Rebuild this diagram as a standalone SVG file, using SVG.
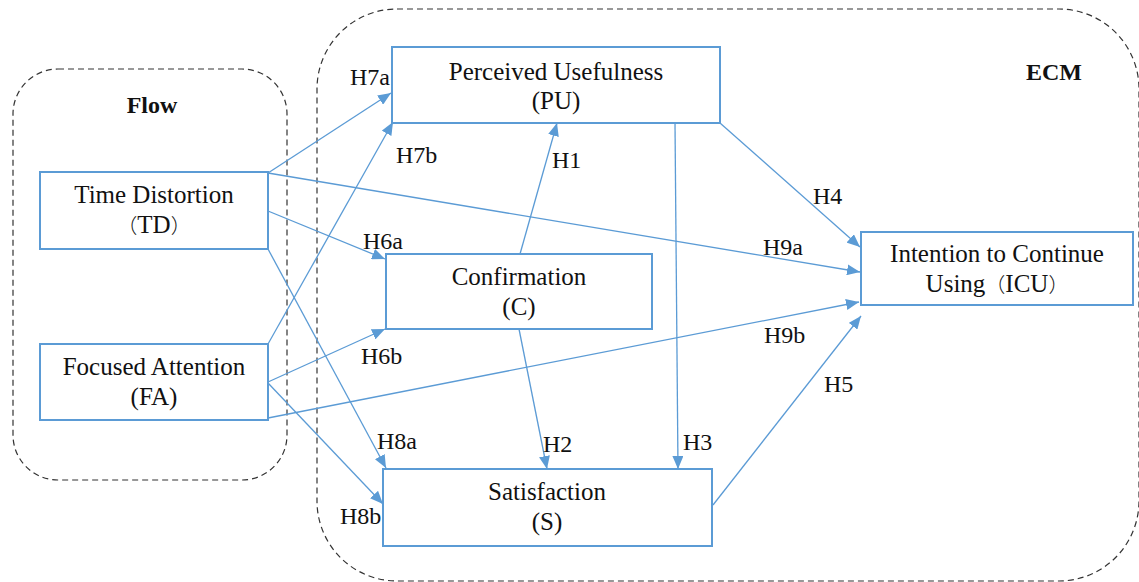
<svg xmlns="http://www.w3.org/2000/svg" width="1139" height="582" viewBox="0 0 1139 582">
<style>
.cont{fill:none;stroke:#333;stroke-width:1.2;stroke-dasharray:6 4}
.node{fill:#fff;stroke:#5B9BD5;stroke-width:2}
.t{font-family:'Liberation Serif','DejaVu Serif',serif;font-size:25px;fill:#111;text-anchor:middle}
.lbl{font-family:'Liberation Serif','DejaVu Serif',serif;font-size:24px;fill:#111}
.ttl{font-family:'Liberation Serif',serif;font-size:24px;font-weight:bold;fill:#111;text-anchor:middle}
.cjk{font-family:'Noto Sans CJK SC',sans-serif;font-size:20px;font-weight:300}
.c{stroke:#5B9BD5;stroke-width:1.3;fill:none;marker-end:url(#ah)}
</style>
<defs>
<marker id="ah" markerUnits="userSpaceOnUse" markerWidth="13" markerHeight="11" refX="13" refY="5.5" orient="auto">
<path d="M0,0 L13,5.5 L0,11 z" fill="#5B9BD5"/>
</marker>
</defs>
<rect width="1139" height="582" fill="#fff"/>
<g id="containers">
<rect class="cont" x="13" y="69" width="274" height="411" rx="45"/>
<rect class="cont" x="317" y="9" width="822" height="572" rx="80"/>
<text class="ttl" x="152" y="113">Flow</text>
<text class="ttl" x="1054" y="80">ECM</text>
</g>
<g id="connectors">
<line class="c" x1="268" y1="173" x2="391" y2="93"/>
<line class="c" x1="268" y1="344" x2="393" y2="122"/>
<line class="c" x1="268" y1="211" x2="385" y2="259"/>
<line class="c" x1="268" y1="382" x2="385" y2="329"/>
<line class="c" x1="268" y1="249" x2="386" y2="468"/>
<line class="c" x1="268" y1="383" x2="383" y2="504"/>
<line class="c" x1="268" y1="418" x2="859" y2="302"/>
<line class="c" x1="268" y1="173" x2="860" y2="272"/>
<line class="c" x1="720" y1="123" x2="860" y2="247"/>
<line class="c" x1="713" y1="505" x2="861" y2="316"/>
<line class="c" x1="675" y1="123" x2="678" y2="469"/>
<line class="c" x1="519" y1="329" x2="547" y2="469"/>
<line class="c" x1="520" y1="254" x2="557" y2="123"/>
<text class="lbl" x="350" y="85">H7a</text>
<text class="lbl" x="396" y="163">H7b</text>
<text class="lbl" x="552" y="168">H1</text>
<text class="lbl" x="363" y="249">H6a</text>
<text class="lbl" x="361" y="364">H6b</text>
<text class="lbl" x="377" y="449">H8a</text>
<text class="lbl" x="543" y="452">H2</text>
<text class="lbl" x="683" y="450">H3</text>
<text class="lbl" x="340" y="524">H8b</text>
<text class="lbl" x="813" y="204">H4</text>
<text class="lbl" x="763" y="255">H9a</text>
<text class="lbl" x="764" y="343">H9b</text>
<text class="lbl" x="824" y="392">H5</text>
</g>
<g id="TD">
<rect class="node" x="40" y="172" width="228" height="77"/>
<text class="t" x="154" y="203">Time Distortion</text>
<text class="t" x="154" y="233"><tspan class="cjk">（</tspan>TD<tspan class="cjk">）</tspan></text>
</g>
<g id="FA">
<rect class="node" x="40" y="344" width="228" height="76"/>
<text class="t" x="154" y="375">Focused Attention</text>
<text class="t" x="154" y="405">(FA)</text>
</g>
<g id="PU">
<rect class="node" x="392" y="47" width="328" height="76"/>
<text class="t" x="556" y="80">Perceived Usefulness</text>
<text class="t" x="556" y="109">(PU)</text>
</g>
<g id="C">
<rect class="node" x="386" y="254" width="266" height="75"/>
<text class="t" x="519" y="285">Confirmation</text>
<text class="t" x="519" y="315">(C)</text>
</g>
<g id="S">
<rect class="node" x="383" y="469" width="329" height="77"/>
<text class="t" x="547" y="500">Satisfaction</text>
<text class="t" x="547" y="530">(S)</text>
</g>
<g id="ICU">
<rect class="node" x="861" y="232" width="272" height="73"/>
<text class="t" x="997" y="262">Intention to Continue</text>
<text class="t" x="997" y="292">Using<tspan class="cjk">（</tspan>ICU<tspan class="cjk">）</tspan></text>
</g>
</svg>
